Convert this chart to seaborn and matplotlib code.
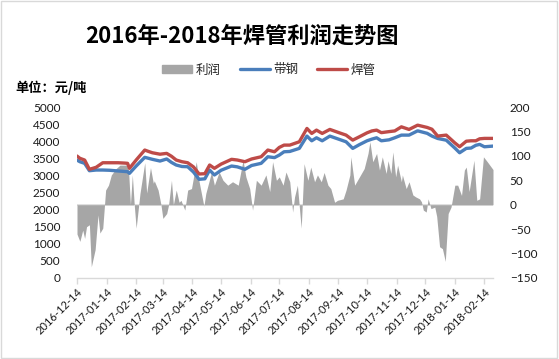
import matplotlib
matplotlib.use("Agg")
import matplotlib.pyplot as plt
import seaborn as sns
import pandas as pd
from matplotlib.patches import Patch
from matplotlib.lines import Line2D

sns.set_theme(style="white")
plt.rcParams['font.family'] = ['Lato', 'Noto Sans CJK SC', 'DejaVu Sans']

title = "2016年-2018年焊管利润走势图"
unit_label = "单位：元/吨"
series_names = ["利润", "带钢", "焊管"]

line_dates = [
    "2016-12-14", "2016-12-17", "2016-12-22", "2016-12-27", "2017-01-03", "2017-01-10",
    "2017-01-17", "2017-01-26", "2017-02-02", "2017-02-05", "2017-02-07", "2017-02-14",
    "2017-02-23", "2017-02-27", "2017-03-03", "2017-03-11", "2017-03-18", "2017-03-23",
    "2017-03-28", "2017-04-03", "2017-04-09", "2017-04-15", "2017-04-21", "2017-04-27",
    "2017-05-02", "2017-05-07", "2017-05-14", "2017-05-25", "2017-05-31", "2017-06-08",
    "2017-06-15", "2017-06-25", "2017-07-02", "2017-07-09", "2017-07-14", "2017-07-19",
    "2017-07-25", "2017-08-04", "2017-08-12", "2017-08-17", "2017-08-22", "2017-08-28",
    "2017-09-05", "2017-09-15", "2017-09-22", "2017-09-29", "2017-10-06", "2017-10-14",
    "2017-10-19", "2017-10-24", "2017-10-29", "2017-11-06", "2017-11-12", "2017-11-19",
    "2017-11-27", "2017-12-06", "2017-12-16", "2017-12-21", "2017-12-27", "2018-01-05",
    "2018-01-14", "2018-01-19", "2018-01-26", "2018-01-31", "2018-02-05", "2018-02-09",
    "2018-02-14", "2018-02-23",
]
strip_steel = [
    3449, 3400, 3353, 3137, 3157, 3157,
    3150, 3130, 3115, 3108, 3061, 3274,
    3528, 3500, 3470, 3420, 3480, 3380,
    3303, 3260, 3254, 3100, 2886, 2900,
    3157, 3012, 3150, 3274, 3250, 3178,
    3290, 3353, 3545, 3520, 3594, 3691,
    3700, 3790, 4149, 4012, 4100, 4012,
    4149, 4052, 3983, 3790, 3900, 4012,
    4060, 4100, 4012, 4040, 4100, 4178,
    4178, 4303, 4230, 4150, 4080, 4030,
    3800, 3662, 3790, 3800, 3880, 3907,
    3837, 3857,
]
welded_pipe = [
    3566, 3500, 3449, 3178, 3236, 3370,
    3370, 3370, 3360, 3353, 3207, 3449,
    3741, 3700, 3662, 3620, 3644, 3560,
    3449, 3400, 3370, 3250, 3041, 3050,
    3303, 3207, 3330, 3470, 3450, 3400,
    3480, 3545, 3741, 3691, 3818, 3886,
    3886, 3983, 4373, 4227, 4324, 4227,
    4344, 4245, 4178, 4032, 4130, 4245,
    4300, 4324, 4250, 4280, 4300, 4420,
    4344, 4469, 4402, 4350, 4150, 4178,
    3950, 3837, 4000, 4012, 4012, 4070,
    4082, 4082,
]

profit_dates = [
    "2016-12-14", "2016-12-17", "2016-12-20", "2016-12-22", "2016-12-24", "2016-12-27",
    "2016-12-29", "2017-01-02", "2017-01-05", "2017-01-07", "2017-01-10", "2017-01-13",
    "2017-01-16", "2017-01-19", "2017-01-24", "2017-01-28", "2017-02-04", "2017-02-06",
    "2017-02-08", "2017-02-10", "2017-02-12", "2017-02-14", "2017-02-18", "2017-02-23",
    "2017-02-25", "2017-03-01", "2017-03-04", "2017-03-05", "2017-03-09", "2017-03-12",
    "2017-03-14", "2017-03-18", "2017-03-20", "2017-03-23", "2017-03-25", "2017-03-28",
    "2017-03-31", "2017-04-02", "2017-04-06", "2017-04-09", "2017-04-13", "2017-04-18",
    "2017-04-21", "2017-04-26", "2017-04-28", "2017-05-04", "2017-05-07", "2017-05-12",
    "2017-05-16", "2017-05-21", "2017-05-26", "2017-06-01", "2017-06-06", "2017-06-09",
    "2017-06-13", "2017-06-16", "2017-06-20", "2017-06-25", "2017-06-30", "2017-07-04",
    "2017-07-07", "2017-07-11", "2017-07-14", "2017-07-18", "2017-07-21", "2017-07-25",
    "2017-07-28", "2017-07-30", "2017-08-02", "2017-08-06", "2017-08-09", "2017-08-13",
    "2017-08-16", "2017-08-20", "2017-08-23", "2017-08-27", "2017-08-30", "2017-09-03",
    "2017-09-06", "2017-09-10", "2017-09-13", "2017-09-19", "2017-09-22", "2017-09-26",
    "2017-09-27", "2017-10-01", "2017-10-06", "2017-10-11", "2017-10-15", "2017-10-17",
    "2017-10-20", "2017-10-24", "2017-10-27", "2017-10-30", "2017-11-03", "2017-11-05",
    "2017-11-08", "2017-11-10", "2017-11-13", "2017-11-15", "2017-11-19", "2017-11-20",
    "2017-11-24", "2017-11-27", "2017-12-01", "2017-12-04", "2017-12-08", "2017-12-10",
    "2017-12-12", "2017-12-15", "2017-12-17", "2017-12-20", "2017-12-24", "2017-12-26",
    "2017-12-29", "2018-01-01", "2018-01-04", "2018-01-07", "2018-01-10", "2018-01-14",
    "2018-01-17", "2018-01-21", "2018-01-24", "2018-01-26", "2018-01-29", "2018-02-03",
    "2018-02-06", "2018-02-09", "2018-02-13", "2018-02-17", "2018-02-23",
]
profit = [
    -60, -75, -52, -69, -45, -41,
    -127, -92, -21, -58, -48, 30,
    40, 61, 74, 81, 81, 71,
    0, 61, 0, -48, 23, 86,
    24, 76, 44, 49, 30, 0,
    -28, -18, 0, 50, 0, 30,
    5, 9, -11, 30, 33, 88,
    47, -3, 23, 67, 40, 67,
    50, 40, 47, 40, 91, 57,
    33, -11, 50, 40, 61, 27,
    88, 50, 57, 40, 67, 47,
    -15, 16, 40, -48, 84, 50,
    77, 47, 61, 47, 66, 40,
    33, 5, 9, 12, 30, 61,
    98, 40, 57, 74, 105, 129,
    88, 105, 71, 98, 64, 90,
    64, 108, 57, 81, 47, 61,
    33, 47, 20, 16, 12, 6,
    -11, -15, 12, -8, -5, -24,
    -86, -90, -116, -18, -5, 40,
    40, 19, 71, 77, 27, 91,
    9, 12, 98, 88, 72,
]

x_tick_labels = [
    "2016-12-14", "2017-01-14", "2017-02-14", "2017-03-14", "2017-04-14",
    "2017-05-14", "2017-06-14", "2017-07-14", "2017-08-14", "2017-09-14",
    "2017-10-14", "2017-11-14", "2017-12-14", "2018-01-14", "2018-02-14",
]
left_ticks = [0, 500, 1000, 1500, 2000, 2500, 3000, 3500, 4000, 4500, 5000]
right_ticks = [-150, -100, -50, 0, 50, 100, 150, 200]

lines_df = pd.DataFrame({
    "date": pd.to_datetime(line_dates * 2),
    "value": strip_steel + welded_pipe,
    "series": [series_names[1]] * len(line_dates) + [series_names[2]] * len(line_dates),
})
profit_df = pd.DataFrame({"date": pd.to_datetime(profit_dates), "value": profit})

W, H = 559, 359
fig = plt.figure(figsize=(W / 100, H / 100), dpi=100)
fig.patch.set_facecolor("white")
ax = fig.add_axes([77 / W, 1 - 278 / H, 416 / W, 171 / H])
ax2 = ax.twinx()

gray = "#a6a6a6"
blue = "#4a7ebb"
red = "#be4b48"

ax2.fill_between(profit_df["date"], 0, profit_df["value"], color=gray, linewidth=0)
ax2.axhline(0, color="#d9d9d9", lw=1.2, zorder=0.5)

sns.lineplot(data=lines_df, x="date", y="value", hue="series",
             palette={series_names[1]: blue, series_names[2]: red},
             linewidth=2.4, ax=ax, legend=False)

ax.set_zorder(ax2.get_zorder() + 1)
ax.patch.set_visible(False)

ax.set_ylim(0, 5000)
ax2.set_ylim(-150, 200)
ax.set_yticks(left_ticks)
ax2.set_yticks(right_ticks)
ax.set_xlim(pd.Timestamp("2016-12-14"), pd.Timestamp("2018-02-23"))
xt = pd.to_datetime(x_tick_labels)
ax.set_xticks(xt)
ax.set_xticklabels(x_tick_labels, rotation=45, ha="right", rotation_mode="anchor", fontsize=8)
ax.set_xlabel("")
ax.set_ylabel("")

for a in (ax, ax2):
    for s in a.spines.values():
        s.set_visible(False)
ax.spines["bottom"].set_visible(True)
ax.spines["bottom"].set_color("#d9d9d9")
ax.spines["bottom"].set_linewidth(1.0)
ax.tick_params(axis="x", length=4, width=1, color="#d9d9d9", pad=2, direction="out", bottom=True)
ax.tick_params(axis="y", length=0, labelsize=8.5, pad=12)
ax2.tick_params(axis="y", length=0, labelsize=8.5, pad=12)
for lab in ax.get_yticklabels() + ax2.get_yticklabels() + ax.get_xticklabels():
    lab.set_color("#1a1a1a")

fig.text(242 / W, 1 - 36 / H, title, ha="center", va="center", fontsize=16,
         fontweight="bold", color="black", family=["Noto Sans CJK SC", "DejaVu Sans"])
fig.text(15 / W, 1 - 88 / H, unit_label, ha="left", va="center", fontsize=9.5,
         fontweight="bold", color="black", family=["Noto Sans CJK SC", "DejaVu Sans"])

handles = [Patch(color=gray), Line2D([], [], color=blue, lw=2.4), Line2D([], [], color=red, lw=2.4)]
leg = fig.legend(handles, series_names, loc="center", bbox_to_anchor=(269 / W, 1 - 70 / H),
                 ncol=3, frameon=False, handlelength=2.4, handleheight=0.55, handletextpad=0.3,
                 columnspacing=1.5, prop={"family": ["Noto Sans CJK SC", "DejaVu Sans"], "size": 9})

border = plt.Rectangle((0.002, 0.003), 0.995, 0.994, transform=fig.transFigure,
                       fill=False, edgecolor="#d9d9d9", lw=1)
fig.patches.append(border)

fig.savefig("out.png", dpi=100, facecolor="white")
